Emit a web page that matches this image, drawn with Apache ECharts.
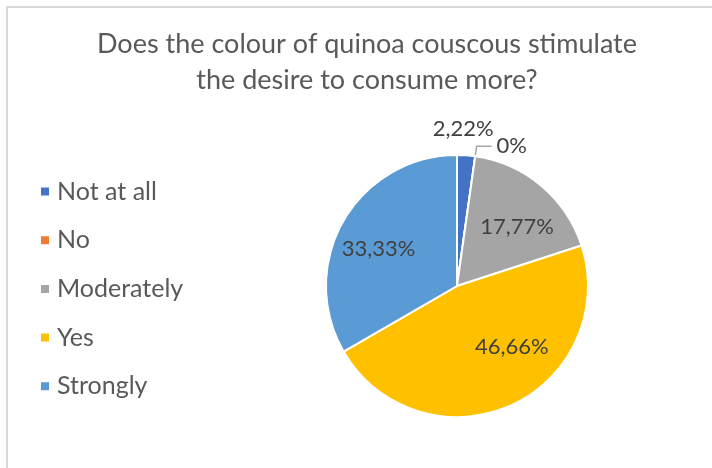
<!DOCTYPE html>
<html>
<head>
<meta charset="utf-8">
<script src="https://cdn.jsdelivr.net/npm/echarts@6/dist/echarts.min.js"></script>
<style>
html,body{margin:0;padding:0;background:#fff;}
#chart{width:712px;height:468px;}
</style>
</head>
<body>
<div id="chart"></div>
<script>
var titleText = 'Does the colour of quinoa couscous stimulate\nthe desire to consume more?';
var categories = ['Not at all', 'No', 'Moderately', 'Yes', 'Strongly'];
var values = [2.22, 0, 17.77, 46.66, 33.33];
var valueLabels = ['2,22%', '0%', '17,77%', '46,66%', '33,33%'];

// styling (not data)
var colors = ['#4472C4', '#ED7D31', '#A5A5A5', '#FFC000', '#5B9BD5'];
var labelPlacement = ['above', 'outside', 'inside', 'inside', 'inside'];
var labelNudge = [[0, 0], [0, 0], [16, -7], [27, -2], [-19, -3]];

var FONT = 'Lato';
var CX = 457, CY = 286, R = 131;

var data = categories.map(function (name, i) {
  var item = { name: name, value: values[i], itemStyle: { color: colors[i] } };
  if (labelPlacement[i] === 'inside') {
    item.label = { position: 'inside', offset: labelNudge[i] };
  } else if (labelPlacement[i] === 'outside') {
    item.label = { position: 'outside' };
    item.labelLine = { show: true, length: 10, length2: 15, lineStyle: { color: '#A6A6A6', width: 1.5 } };
  } else {
    item.label = { position: 'outside' };
    item.labelLine = { show: false };
  }
  return item;
});

var chart = echarts.init(document.getElementById('chart'), null, { renderer: 'canvas' });
chart.setOption({
  animation: false,
  backgroundColor: '#ffffff',
  graphic: [{
    type: 'rect',
    shape: { x: 7, y: 7, width: 900, height: 700 },
    style: { fill: 'none', stroke: '#D9D9D9', lineWidth: 2 },
    silent: true
  }],
  title: {
    text: titleText,
    left: 362,
    top: 21,
    textAlign: 'center',
    textStyle: { fontFamily: FONT, fontSize: 27, fontWeight: 'normal', color: '#595959', lineHeight: 36 }
  },
  legend: {
    orient: 'vertical',
    left: 34,
    top: 174,
    icon: 'rect',
    itemWidth: 10,
    itemHeight: 10,
    itemGap: 23.7,
    data: categories,
    textStyle: { fontFamily: FONT, fontSize: 25, color: '#595959', lineHeight: 24, padding: [0, 0, 0, 2] }
  },
  series: [{
    type: 'pie',
    center: [CX, CY],
    radius: [0, R],
    startAngle: 90,
    clockwise: true,
    avoidLabelOverlap: false,
    minShowLabelAngle: 0,
    itemStyle: { borderColor: '#ffffff', borderWidth: 2 },
    label: {
      show: true,
      fontFamily: FONT,
      fontSize: 22,
      color: '#404040',
      formatter: function (p) { return valueLabels[p.dataIndex]; }
    },
    labelLayout: function (p) {
      if (labelPlacement[p.dataIndex] === 'above') {
        return {
          x: p.rect.x + p.rect.width / 2 - 3,
          y: p.rect.y - 14,
          align: 'center',
          verticalAlign: 'bottom'
        };
      }
      return {};
    },
    data: data
  }]
});
</script>
</body>
</html>
